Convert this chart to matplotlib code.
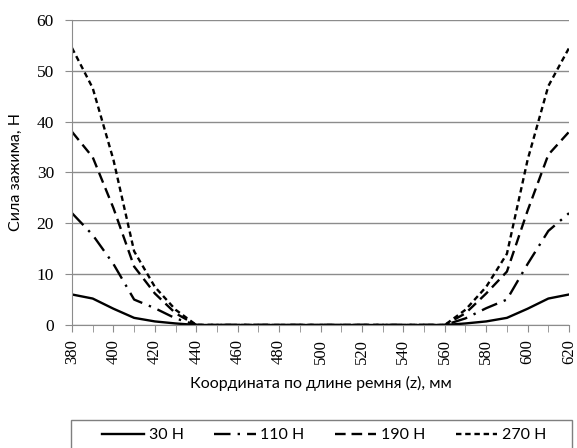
import matplotlib
matplotlib.use("Agg")
import matplotlib.pyplot as plt
from matplotlib.patches import Rectangle
from matplotlib.ticker import MultipleLocator

# координата по длине ремня, мм
z = [380, 390, 400, 410, 420, 430, 440, 450, 460, 470, 480, 490, 500,
     510, 520, 530, 540, 550, 560, 570, 580, 590, 600, 610, 620]

f30 = [6, 5.2, 3.2, 1.4, 0.7, 0.3, 0, 0, 0, 0, 0, 0, 0,
       0, 0, 0, 0, 0, 0, 0.3, 0.7, 1.4, 3.2, 5.2, 6]
f110 = [22, 17.7, 12, 5, 3.3, 1.3, 0, 0, 0, 0, 0, 0, 0,
        0, 0, 0, 0, 0, 0, 1.3, 3.3, 5, 12, 18.5, 22]
f190 = [38, 33, 23, 11.5, 6.2, 2.3, 0, 0, 0, 0, 0, 0, 0,
        0, 0, 0, 0, 0, 0, 2.3, 6.2, 10.5, 22.5, 33.5, 38]
f270 = [54.5, 46.6, 32.5, 14.5, 7.5, 3, 0, 0, 0, 0, 0, 0, 0,
        0, 0, 0, 0, 0, 0, 3, 7.5, 14, 32.5, 47, 54.5]

labels = ["30 Н", "110 Н", "190 Н", "270 Н"]

# цифры на осях — с засечками, подписи — без
plt.rcParams["font.family"] = ["Liberation Serif", "DejaVu Serif"]
sans = ["Lato", "DejaVu Sans"]

fig = plt.figure(figsize=(5.77, 4.48), dpi=100)
ax = fig.add_axes([0.1248, 0.2746, 0.8614, 0.6808])

lw = 1.7
ax.plot(z, f30, color="black", lw=lw, ls="-", label=labels[0])
ax.plot(z, f110, color="black", lw=lw, ls=(0, (7, 3, 1, 3)), label=labels[1])
ax.plot(z, f190, color="black", lw=lw, ls=(0, (4.5, 2.5)), label=labels[2])
ax.plot(z, f270, color="black", lw=lw, ls=(0, (2.3, 1.6)), label=labels[3])

ax.set_xlim(380, 620)
ax.set_ylim(0, 60)
ax.xaxis.set_major_locator(MultipleLocator(20))
ax.xaxis.set_minor_locator(MultipleLocator(10))
ax.yaxis.set_major_locator(MultipleLocator(10))

ax.grid(axis="y", color="#8c8c8c", lw=1)
ax.set_axisbelow(True)
for s in ["top", "right"]:
    ax.spines[s].set_visible(False)
for s in ["left", "bottom"]:
    ax.spines[s].set_color("#8c8c8c")

ax.tick_params(axis="x", which="both", direction="out", length=5, color="#8c8c8c",
               labelrotation=90, labelsize=12, pad=5)
ax.tick_params(axis="y", direction="out", length=5, color="#8c8c8c",
               labelsize=12.5, pad=8)

ax.set_ylabel("Сила зажима, Н", fontsize=11.5, family=sans, labelpad=10)
ax.set_xlabel("Координата по длине ремня (z), мм", fontsize=11.5, family=sans, labelpad=9)

leg = fig.legend(loc="center", bbox_to_anchor=(0.5624, 0.029), ncol=4,
                 frameon=False, prop={"family": sans, "size": 11.5},
                 handlelength=2.6, columnspacing=1.9, handletextpad=0.3)

# рамка легенды (нижний край уходит за пределы рисунка)
fig.patches.append(Rectangle((0.1231, -0.02), 0.8683, 0.0826,
                             transform=fig.transFigure, fill=False,
                             edgecolor="#7f7f7f", lw=1.0))

fig.savefig("out.png", dpi=100)
